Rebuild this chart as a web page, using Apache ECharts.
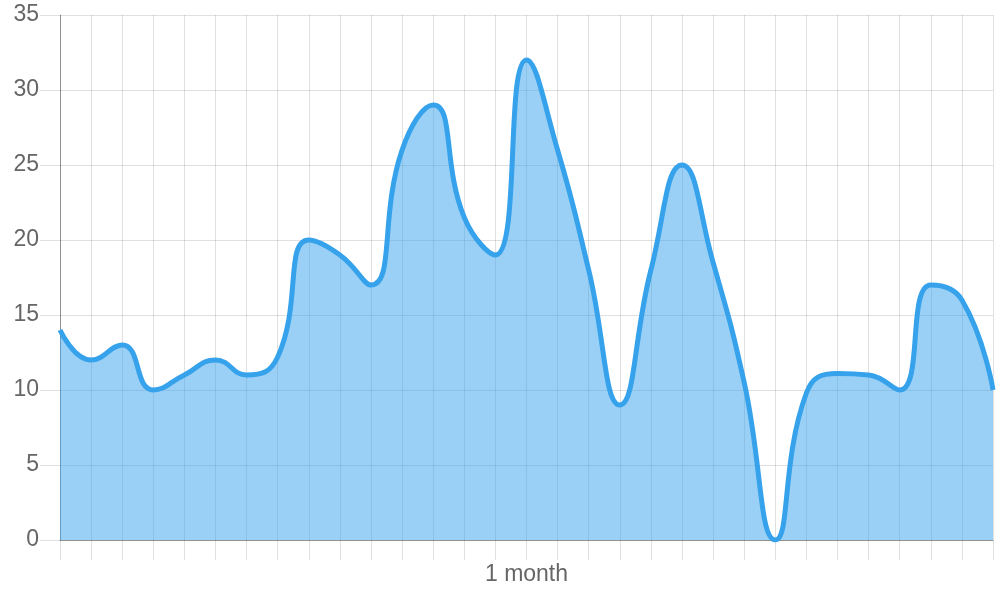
<!DOCTYPE html>
<html>
<head>
<meta charset="utf-8">
<script src="https://cdn.jsdelivr.net/npm/echarts@6/dist/echarts.min.js"></script>
<style>
html,body{margin:0;padding:0;background:#fff;}
#chart{width:1000px;height:600px;}
</style>
</head>
<body>
<div id="chart"></div>
<script>
var days = [0,1,2,3,4,5,6,7,8,9,10,11,12,13,14,15,16,17,18,19,20,21,22,23,24,25,26,27,28,29,30];
var values = [14,12,13,10,11,12,11,12.2,20,19,17,26,29,21.5,19,32,26,18,9,18,25,18.5,10.5,0,9.8,11.1,11,10,17,16,10];
var yTicks = {min:0, max:35, interval:5};
var xAxisTitle = '1 month';

var seriesData = days.map(function(d,i){ return [d, values[i]]; });

var chart = echarts.init(document.getElementById('chart'), null, {renderer:'canvas'});
var gridColor = 'rgba(0,0,0,0.12)';
var axisColor = 'rgba(0,0,0,0.35)';
chart.setOption({
  animation:false,
  grid:{left:60, right:7, top:15, bottom:60, containLabel:false},
  xAxis:{
    type:'value', min:days[0], max:days[days.length-1], interval:1,
    name:xAxisTitle, nameLocation:'middle', nameGap:23,
    nameTextStyle:{color:'#666', fontSize:23, fontFamily:'Liberation Sans, Arial, sans-serif'},
    axisLine:{show:true, onZero:false, lineStyle:{color:axisColor, width:1}},
    axisTick:{show:true, length:20, lineStyle:{color:gridColor}},
    axisLabel:{show:false},
    splitLine:{show:true, lineStyle:{color:gridColor, width:1}}
  },
  yAxis:{
    type:'value', min:yTicks.min, max:yTicks.max, interval:yTicks.interval,
    axisLine:{show:true, lineStyle:{color:axisColor, width:1}},
    axisTick:{show:true, length:20, lineStyle:{color:gridColor}},
    axisLabel:{show:true, color:'#666', fontSize:23, margin:21, fontFamily:'Liberation Sans, Arial, sans-serif'},
    splitLine:{show:true, lineStyle:{color:gridColor, width:1}}
  },
  series:[{
    type:'line',
    data:seriesData,
    smooth:0.5,
    showSymbol:false,
    symbol:'none',
    lineStyle:{color:'#36A2EB', width:5},
    areaStyle:{color:'#36A2EB', opacity:0.5, origin:'start'},
    z:2
  }]
});
</script>
</body>
</html>
